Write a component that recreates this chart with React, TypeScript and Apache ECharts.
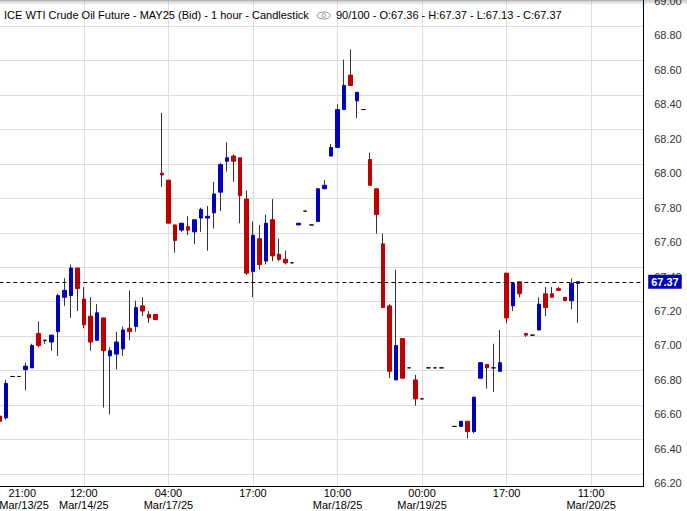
import React, { useEffect, useRef } from 'react';
import * as echarts from 'echarts';

// ---- data (hourly slots; slot 0 is partially outside the left edge) ----
const slotCount = 100;
const tickSlots = [0, 13, 26, 39, 52, 65, 78, 91];
const tickLabels = [
  '21:00\nMar/13/25',
  '12:00\nMar/14/25',
  '04:00\nMar/17/25',
  '17:00',
  '10:00\nMar/18/25',
  '00:00\nMar/19/25',
  '17:00',
  '11:00\nMar/20/25',
];

const opens = [
  66.59, 66.58, 66.82, 66.82, 66.86, 66.87, 67.07, 67.03, 67.02, 67.08,
  67.28, 67.29, 67.45, 67.27, 67.17, 67.03, 67.16, 66.94, 66.95, 66.98,
  67.10, 67.11, 67.23, 67.18, 67.18, 68.00, 67.96, 67.70, 67.67, 67.69,
  67.66, 67.74, 67.74, 67.77, 67.89, 68.07, 68.10, 68.09, 67.85, 67.43,
  67.62, 67.49, 67.73, 67.53, 67.50, 67.48, 67.70, 67.78, 67.70, 67.72,
  67.91, 68.10, 68.15, 68.37, 68.57, 68.42, 68.37, 68.08, 67.91, 67.59,
  67.23, 66.80, 67.04, 66.87, 66.80, 66.69, 66.87, 66.87, 66.87, null,
  66.53, 66.53, 66.56, 66.50, 66.81, 66.89, 66.87, 66.85, 67.42, 67.23,
  67.37, 67.07, 67.06, 67.09, 67.30, 67.30, 67.33, 67.28, 67.26, 67.36,
];
const closes = [
  66.56, 66.78, 66.82, 66.82, 66.88, 67.00, 67.00, 67.03, 67.06, 67.29,
  67.32, 67.45, 67.33, 67.12, 67.02, 67.19, 66.97, 66.97, 67.02, 67.09,
  67.08, 67.22, 67.20, 67.16, 67.15, 67.99, 67.71, 67.61, 67.71, 67.67,
  67.73, 67.79, 67.75, 67.88, 68.05, 68.09, 68.07, 67.87, 67.42, 67.64,
  67.47, 67.71, 67.52, 67.50, 67.48, 67.48, 67.71, 67.78, 67.70, 67.91,
  67.93, 68.15, 68.37, 68.51, 68.51, 68.47, 68.37, 67.93, 67.76, 67.22,
  66.85, 67.00, 66.81, 66.87, 66.69, 66.69, 66.87, 66.87, 66.87, null,
  66.53, 66.56, 66.50, 66.70, 66.90, 66.87, 66.87, 66.90, 67.16, 67.36,
  67.30, 67.06, 67.06, 67.24, 67.22, 67.28, 67.32, 67.26, 67.36, 67.37,
];
const lows = [
  66.55, 66.57, 66.82, 66.82, 66.74, 66.87, 66.99, 67.01, 66.97, 66.94,
  67.23, 67.16, 67.20, 67.10, 66.97, 67.03, 66.64, 66.60, 66.86, 66.94,
  67.03, 67.08, 67.17, 67.13, 67.15, 67.92, 67.71, 67.54, 67.66, 67.64,
  67.59, 67.66, 67.55, 67.68, 67.78, 68.01, 67.95, 67.71, 67.41, 67.28,
  67.44, 67.47, 67.49, 67.49, 67.47, 67.48, 67.70, 67.78, 67.70, 67.72,
  67.91, 68.10, 68.15, 68.37, 68.51, 68.32, 68.37, 67.93, 67.65, 67.22,
  66.81, 66.80, 66.81, 66.87, 66.65, 66.69, 66.87, 66.87, 66.87, null,
  66.53, 66.53, 66.46, 66.49, 66.81, 66.75, 66.73, 66.85, 67.13, 67.20,
  67.28, 67.05, 67.06, 67.09, 67.17, 67.28, 67.32, 67.26, 67.21, 67.13,
];
const highs = [
  66.60, 66.80, 66.82, 66.82, 66.90, 67.01, 67.14, 67.03, 67.06, 67.30,
  67.39, 67.47, 67.45, 67.34, 67.28, 67.24, 67.16, 66.99, 67.08, 67.11,
  67.32, 67.26, 67.28, 67.20, 67.18, 68.35, 67.96, 67.70, 67.71, 67.75,
  67.73, 67.80, 67.81, 67.95, 68.06, 68.18, 68.11, 68.09, 67.90, 67.72,
  67.70, 67.76, 67.85, 67.62, 67.55, 67.48, 67.71, 67.78, 67.70, 67.91,
  67.96, 68.17, 68.40, 68.66, 68.72, 68.47, 68.37, 68.12, 67.91, 67.65,
  67.24, 67.44, 67.04, 66.87, 66.83, 66.69, 66.87, 66.87, 66.87, null,
  66.53, 66.56, 66.56, 66.70, 66.90, 66.89, 67.01, 67.09, 67.42, 67.36,
  67.37, 67.07, 67.06, 67.28, 67.34, 67.34, 67.34, 67.28, 67.39, 67.37,
];
const lastPrice = 67.37;
const titleMain = 'ICE WTI Crude Oil Future - MAY25 (Bid) - 1 hour - Candlestick';
const titleQuote = '90/100 - O:67.36 - H:67.37 - L:67.13 - C:67.37';

// ---- styles ----
const UP = '#0000c0';
const DOWN = '#c00000';
const WICK = '#333333';
const GRID = '#dedede';
const FONT = '"Liberation Sans", Arial, sans-serif';

const categories = Array.from({ length: slotCount }, (_, i) => {
  const t = tickSlots.indexOf(i);
  return t >= 0 ? tickLabels[t] : 'slot' + i;
});

const EMPTY = ['-', '-', '-', '-'];
const wickData = opens.map((o, i) =>
  o == null ? EMPTY : [lows[i], highs[i], lows[i], highs[i]]
);
const bodyData = opens.map((o, i) => {
  if (o == null) return EMPTY;
  const c = closes[i] as number;
  return [o, c, Math.min(o, c), Math.max(o, c)];
});

export default function App() {
  const ref = useRef<HTMLDivElement>(null);
  useEffect(() => {
    if (!ref.current) return;
    const chart = echarts.init(ref.current, null, { renderer: 'svg' });
    const isTick = (index: number) => tickSlots.indexOf(index) >= 0;
    chart.setOption({
      animation: false,
      backgroundColor: '#ffffff',
      textStyle: { fontFamily: FONT },
      grid: {
        left: -0.7,
        right: 43.8,
        top: 0,
        bottom: 24.3,
        containLabel: false,
        outerBoundsMode: 'none',
      },
      xAxis: {
        type: 'category',
        data: categories,
        boundaryGap: false,
        axisLine: { show: true, lineStyle: { color: '#000', width: 1 } },
        axisTick: { show: false },
        splitLine: {
          show: true,
          interval: (index: number) => isTick(index),
          lineStyle: { color: GRID, width: 1 },
        },
        axisLabel: {
          interval: (index: number) => isTick(index),
          alignMinLabel: 'left',
          formatter: (v: string, i: number) => (i === 0 ? '   ' + v : v),
          fontSize: 11,
          lineHeight: 12,
          margin: 0,
          color: '#000',
          fontFamily: FONT,
        },
      },
      yAxis: [
        {
          type: 'value',
          position: 'right',
          min: 66.18,
          max: 69.006,
          splitNumber: 14,
          minInterval: 0.2,
          maxInterval: 0.2,
          axisLine: { show: true, lineStyle: { color: '#000', width: 1 } },
          axisTick: { show: false },
          splitLine: { show: false },
          axisLabel: {
            showMinLabel: false,
            showMaxLabel: false,
            margin: 11,
            fontSize: 11,
            color: '#333',
            fontFamily: FONT,
            formatter: (v: number) => v.toFixed(2),
          },
        },
        {
          type: 'value',
          position: 'right',
          min: 66.126,
          max: 68.952,
          splitNumber: 14,
          minInterval: 0.2,
          maxInterval: 0.2,
          axisLine: { show: false },
          axisTick: { show: false },
          axisLabel: { show: false },
          splitLine: { show: true, lineStyle: { color: GRID, width: 1 } },
        },
      ],
      series: [
        {
          type: 'candlestick',
          name: 'wicks',
          data: wickData,
          barWidth: 1,
          silent: true,
          itemStyle: {
            color: WICK,
            color0: WICK,
            borderColor: WICK,
            borderColor0: WICK,
            borderColorDoji: WICK,
            borderWidth: 1,
          },
          z: 2,
        },
        {
          type: 'candlestick',
          name: 'bodies',
          data: bodyData,
          barWidth: 4,
          silent: true,
          itemStyle: {
            color: UP,
            color0: DOWN,
            borderColor: UP,
            borderColor0: DOWN,
            borderColorDoji: '#000',
            borderWidth: 1,
          },
          z: 3,
          markLine: {
            silent: true,
            symbol: ['none', 'none'],
            precision: 2,
            data: [{ yAxis: lastPrice }],
            lineStyle: { color: '#000', type: [4, 3], width: 1 },
            emphasis: { disabled: true },
            label: {
              show: true,
              position: 'end',
              distance: 5,
              formatter: lastPrice.toFixed(2),
              color: '#fff',
              backgroundColor: UP,
              fontWeight: 'bold',
              fontSize: 11,
              fontFamily: FONT,
              padding: [2, 3, 1, 3],
            },
          },
        },
      ],
      graphic: [
        {
          type: 'rect',
          left: 0,
          top: 0,
          shape: { width: 687, height: 5 },
          silent: true,
          z: 100,
          style: {
            fill: new echarts.graphic.LinearGradient(0, 0, 0, 1, [
              { offset: 0, color: 'rgba(0,0,0,0.22)' },
              { offset: 1, color: 'rgba(0,0,0,0)' },
            ]),
          },
        },
        {
          type: 'text',
          left: 4,
          top: 9,
          z: 100,
          style: { text: titleMain, fontSize: 11, fill: '#000', fontFamily: FONT },
        },
        {
          type: 'ellipse',
          z: 100,
          shape: { cx: 323.7, cy: 15.5, rx: 6.5, ry: 3.5 },
          style: { fill: 'none', stroke: '#8a8a8a', lineWidth: 1 },
        },
        {
          type: 'circle',
          z: 100,
          shape: { cx: 323.7, cy: 15.5, r: 1.8 },
          style: { fill: 'none', stroke: '#8a8a8a', lineWidth: 1 },
        },
        {
          type: 'text',
          left: 336,
          top: 9,
          z: 100,
          style: { text: titleQuote, fontSize: 11, fill: '#000', fontFamily: FONT },
        },
      ],
    });
    return () => chart.dispose();
  }, []);
  return (
    <div
      ref={ref}
      style={{ position: 'absolute', left: 0, top: 0, width: 687, height: 511, background: '#fff' }}
    />
  );
}
